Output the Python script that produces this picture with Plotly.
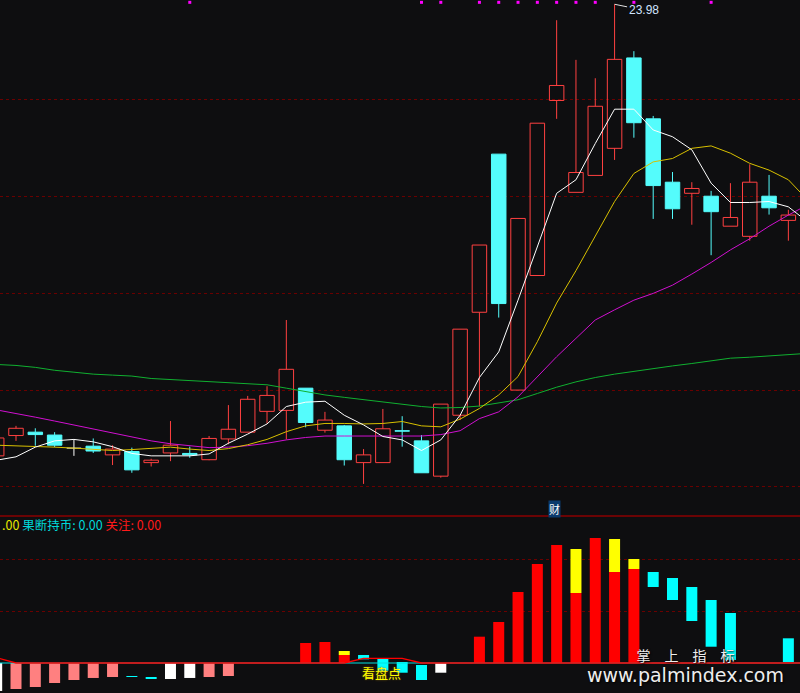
import plotly.graph_objects as go

# ---------------- data ----------------
idx = list(range(42))
opens = [14.64, 15.06, 15.13, 15.07, 14.80, 14.84, 14.66, 14.73, 14.50, 14.70,
         14.69, 14.56, 14.99, 15.13, 15.56, 15.58, 16.04, 15.17, 15.26, 14.50,
         14.50, 15.16, 14.95, 14.22, 15.48, 17.61, 20.88, 16.00, 18.37, 21.99,
         20.09, 20.44, 21.00, 22.87, 21.61, 20.30, 20.07, 20.01, 19.39, 19.18,
         20.01, 19.51]
highs = [15.07, 15.26, 15.21, 15.13, 14.98, 15.00, 14.86, 14.81, 14.58, 15.36,
         14.83, 15.05, 15.69, 15.88, 16.08, 17.45, 16.04, 15.55, 15.28, 14.78,
         15.61, 15.46, 15.07, 15.71, 17.26, 19.00, 20.88, 19.55, 21.52, 23.65,
         22.83, 22.45, 23.98, 23.01, 21.67, 20.51, 20.30, 20.12, 20.28, 20.67,
         20.45, 19.73]
lows = [14.55, 14.95, 14.85, 14.82, 14.64, 14.70, 14.45, 14.29, 14.42, 14.53,
        14.60, 14.55, 14.88, 15.13, 15.31, 14.98, 15.23, 15.12, 14.44, 14.06,
        14.50, 14.83, 14.29, 14.19, 15.38, 15.66, 17.50, 16.00, 18.37, 21.61,
        20.09, 20.44, 20.76, 21.22, 19.54, 19.54, 19.42, 18.79, 19.39, 19.09,
        19.63, 19.09]
closes = [15.01, 15.21, 15.08, 14.86, 14.80, 14.74, 14.78, 14.35, 14.55, 14.86,
          14.66, 15.00, 15.19, 15.81, 15.89, 16.43, 15.33, 15.38, 14.56, 14.66,
          15.20, 15.15, 14.29, 15.71, 17.26, 19.00, 17.79, 19.55, 21.52, 22.30,
          20.50, 21.87, 22.84, 21.53, 20.23, 19.75, 20.17, 19.69, 19.57, 20.30,
          19.77, 19.62]

line_idx = list(range(43))
ma_white = [14.55, 14.62, 14.82, 14.95, 14.98, 14.93, 14.83, 14.69, 14.64, 14.64,
            14.64, 14.68, 14.90, 15.09, 15.30, 15.66, 15.75, 15.77, 15.48, 15.28,
            15.04, 14.97, 14.75, 14.97, 15.48, 16.26, 16.79, 17.86, 18.98, 20.07,
            20.35, 21.10, 21.81, 21.81, 21.38, 21.24, 20.97, 20.28, 19.88, 19.88,
            19.90, 19.79, 19.48]
ma_yellow = [14.86, 14.85, 14.84, 14.82, 14.80, 14.78, 14.75, 14.77, 14.80, 14.82,
             14.78, 14.75, 14.79, 14.87, 14.98, 15.14, 15.26, 15.31, 15.31, 15.30,
             15.31, 15.35, 15.26, 15.24, 15.40, 15.62, 15.90, 16.28, 17.00, 17.80,
             18.47, 19.18, 19.90, 20.48, 20.72, 20.79, 21.00, 21.05, 20.90, 20.69,
             20.55, 20.35, 19.93]
ma_magenta = [15.59, 15.52, 15.44, 15.36, 15.28, 15.20, 15.11, 15.04, 14.95, 14.89,
              14.85, 14.81, 14.82, 14.85, 14.90, 14.97, 15.02, 15.05, 15.05, 15.05,
              15.06, 15.05, 15.05, 15.08, 15.16, 15.41, 15.55, 15.86, 16.28, 16.69,
              17.07, 17.45, 17.66, 17.86, 18.00, 18.17, 18.40, 18.64, 18.90, 19.13,
              19.39, 19.62, 19.83]
ma_green = [16.53, 16.51, 16.47, 16.41, 16.37, 16.33, 16.31, 16.29, 16.24, 16.22,
            16.20, 16.18, 16.16, 16.14, 16.11, 16.04, 15.97, 15.90, 15.85, 15.80,
            15.75, 15.71, 15.66, 15.63, 15.64, 15.67, 15.73, 15.80, 15.93, 16.06,
            16.17, 16.26, 16.33, 16.39, 16.45, 16.50, 16.55, 16.60, 16.66, 16.68,
            16.71, 16.73, 16.76]

signal_idx = [10, 22, 23, 25, 26, 27, 28, 29, 30, 31, 33, 37]
signal_level = 24.02
peak_idx = 32
peak_value = 23.98
report_idx = 29

N = None
red_bar = [0, 0, 0, 0, 0, 0, 0, 0, 0, 0, 0, 0, 0, 0, 0, 0, 3.85, 4.04, 1.54, 0,
           0, 0, 0, 0, 0, 5.06, 7.88, 13.65, 19.04, 22.69, 13.46, 24.04, 17.5, 18.08, 0, 0,
           0, 0, 0, 0, 0, 0]
yellow_top = [N, N, N, N, N, N, N, N, N, N, N, N, N, N, N, N, N, N, 2.31, N,
              N, N, N, N, N, N, N, N, N, N, 21.92, N, 23.85, 20.0, N, N,
              N, N, N, N, N, N]
pink_bar = [N, -5.0, -4.62, -3.85, -3.27, -2.88, -2.69, N, N, N, N, -2.69, -2.5, N, N, N, N, N, N, N,
            N, N, N, N, N, N, N, N, N, N, N, N, N, N, N, N, N, N, N, N, N, N]
white_bar = [-5.38, N, N, N, N, N, N, N, N, -3.08, -2.88, N, N, N, N, N, N, N, N, N,
             N, N, N, -1.87, N, N, N, N, N, N, N, N, N, N, N, N, N, N, N, N, N, N]
cyan_hi = [N, N, N, N, N, N, N, -2.5, -2.69, N, N, N, N, N, N, N, N, N, N, 1.54,
           0.77, 0.19, -0.38, N, N, N, N, N, N, N, N, N, N, N, 17.5, 16.35,
           14.62, 12.12, 9.62, N, N, 4.75]
cyan_lo = [N, N, N, N, N, N, N, -2.69, -3.02, N, N, N, N, N, N, N, N, N, N, 0.71,
           -1.48, -1.87, -3.27, N, N, N, N, N, N, N, N, N, N, N, 14.62, 12.12,
           8.08, 3.13, 0.58, N, N, 0.19]
guanzhu = [1.0, 0, 0, 0, 0, 0, 0, 0, 0, 0, 0, 0, 0, 0, 0, 0, 0, 0, 0, 0.9,
           0.9, 0.9, 0, 0, 0, 0, 0, 0, 0, 0, 0, 0, 0, 0, 0, 0, 0, 0, 0, 0, 0, 0, 0]
chibi = [0] * 43

# ---------------- styles ----------------
BG = "#0e0e10"
UP = "#ff4040"
DN = "#54fcfc"
GRID = "#6a0000"
BODY_W = 0.75
BAR_W = 0.57

fig = go.Figure()

# wicks
wick = {"up": ([], []), "dn": ([], []), "eq": ([], [])}
up_x, up_b, up_h = [], [], []
dn_x, dn_b, dn_h = [], [], []
doji_x, doji_y = [], []
for i, o, h, l, c in zip(idx, opens, highs, lows, closes):
    top, bot = max(o, c), min(o, c)
    k = "up" if c > o else ("dn" if c < o else "eq")
    xs, ys = wick[k]
    if h > top:
        xs += [i, i, None]; ys += [top, h, None]
    if l < bot:
        xs += [i, i, None]; ys += [bot, l, None]
    if k == "up":
        up_x.append(i); up_b.append(bot); up_h.append(top - bot)
    elif k == "dn":
        dn_x.append(i); dn_b.append(bot); dn_h.append(top - bot)
    else:
        doji_x += [i - BODY_W / 2, i + BODY_W / 2, None]; doji_y += [o, o, None]

wcol = {"up": UP, "dn": DN, "eq": "#ffffff"}
for k, (xs, ys) in wick.items():
    fig.add_trace(go.Scatter(x=xs, y=ys, mode="lines", line=dict(color=wcol[k], width=1),
                             xaxis="x", yaxis="y", hoverinfo="skip"))

fig.add_trace(go.Bar(x=dn_x, y=dn_h, base=dn_b, width=BODY_W,
                     marker=dict(color=DN, line=dict(color=DN, width=1)), xaxis="x", yaxis="y"))
fig.add_trace(go.Bar(x=up_x, y=up_h, base=up_b, width=BODY_W,
                     marker=dict(color="rgba(0,0,0,0)", line=dict(color=UP, width=1)), xaxis="x", yaxis="y"))
fig.add_trace(go.Scatter(x=doji_x, y=doji_y, mode="lines", line=dict(color="#ffffff", width=1),
                         xaxis="x", yaxis="y"))

# moving averages
for vals, col in [(ma_green, "#10b030"), (ma_magenta, "#d010d0"),
                  (ma_yellow, "#d8c000"), (ma_white, "#ffffff")]:
    fig.add_trace(go.Scatter(x=line_idx, y=vals, mode="lines", line=dict(color=col, width=1),
                             xaxis="x", yaxis="y"))

# signal dots
fig.add_trace(go.Scatter(x=signal_idx, y=[signal_level] * len(signal_idx), mode="markers",
                         marker=dict(symbol="square", size=3, color="#ff00ff"),
                         xaxis="x", yaxis="y"))

# ---------------- bottom panel ----------------
fig.add_trace(go.Bar(x=idx, y=red_bar, width=BAR_W, marker=dict(color="#ff0000", line=dict(width=0)),
                     xaxis="x2", yaxis="y2"))
ytop_len = [None if t is None else t - r for t, r in zip(yellow_top, red_bar)]
fig.add_trace(go.Bar(x=idx, y=ytop_len, base=red_bar, width=BAR_W,
                     marker=dict(color="#ffff00", line=dict(width=0)), xaxis="x2", yaxis="y2"))
fig.add_trace(go.Bar(x=idx, y=pink_bar, width=BAR_W, marker=dict(color="#ff8080", line=dict(width=0)),
                     xaxis="x2", yaxis="y2"))
fig.add_trace(go.Bar(x=idx, y=white_bar, width=BAR_W, marker=dict(color="#ffffff", line=dict(width=0)),
                     xaxis="x2", yaxis="y2"))
cy_len = [None if h is None else h - l for h, l in zip(cyan_hi, cyan_lo)]
fig.add_trace(go.Bar(x=idx, y=cy_len, base=cyan_lo, width=BAR_W,
                     marker=dict(color="#00ffff", line=dict(width=0)), xaxis="x2", yaxis="y2"))
fig.add_trace(go.Scatter(x=line_idx, y=chibi, mode="lines", line=dict(color="#00e0e0", width=1),
                         xaxis="x2", yaxis="y2"))
fig.add_trace(go.Scatter(x=line_idx, y=guanzhu, mode="lines", line=dict(color="#ff0000", width=1.3),
                         xaxis="x2", yaxis="y2"))

XR = [0.1714, 41.6028]
H = 693.0
split = 1 - 516 / H

fig.update_layout(
    width=800, height=693, margin=dict(l=0, r=0, t=0, b=0),
    paper_bgcolor=BG, plot_bgcolor=BG, showlegend=False, barmode="overlay",
    xaxis=dict(domain=[0, 1], range=XR, showgrid=False, zeroline=False, showticklabels=False,
               anchor="y", fixedrange=True),
    yaxis=dict(domain=[split, 1], range=[13.396, 24.068], tickvals=[14, 16, 18, 20, 22],
               showticklabels=False, showgrid=True, gridcolor=GRID, griddash="dot", gridwidth=1,
               zeroline=False, anchor="x"),
    xaxis2=dict(domain=[0, 1], range=XR, showgrid=False, zeroline=False, showticklabels=False,
                anchor="y2"),
    yaxis2=dict(domain=[0, split], range=[-5.77, 28.27], tickvals=[10, 20],
                showticklabels=False, showgrid=True, gridcolor=GRID, griddash="dot", gridwidth=1,
                zeroline=False, anchor="x2"),
)

fig.add_shape(type="line", xref="paper", yref="paper", x0=0, x1=1, y0=split, y1=split,
              line=dict(color="#8b0000", width=1.5))

# peak label
fig.add_annotation(x=peak_idx, y=peak_value, xref="x", yref="y", text="23.98",
                   showarrow=True, arrowhead=0, arrowwidth=1, arrowcolor="#e0e0e0",
                   ax=29, ay=6, font=dict(color="#d0e4ff", size=12, family="Liberation Sans"))

# report marker
fig.add_annotation(x=report_idx, y=1 - 508.5 / H, xref="x", yref="paper", text="财",
                   xanchor="center", yanchor="middle",
                   showarrow=False, bgcolor="#0b3a6c", borderpad=0, xshift=-2,
                   font=dict(color="#ffffff", size=11, family="Noto Sans CJK SC"))

# indicator caption
fig.add_annotation(x=0, y=1 - 524.5 / H, xref="paper", yref="paper", xanchor="left", yanchor="middle",
                   showarrow=False,
                   text="<span style='color:#e8e800'>.00</span> "
                        "<span style='color:#00d8d8'>果断持币: 0.00</span> "
                        "<span style='color:#ff1a1a'>关注: 0.00</span>",
                   font=dict(size=12.5, family="Noto Sans CJK SC"))

fig.add_annotation(x=381 / 800, y=1 - 672.5 / H, xref="paper", yref="paper", showarrow=False,
                   xanchor="center", yanchor="middle",
                   text="看盘点", font=dict(color="#ffff00", size=13, family="Noto Sans CJK SC",
                                         shadow="0px 0px 2px #806000"))

# watermark (two lines in one text block)
fig.add_annotation(x=685 / 800, y=1 - 665.5 / H, xref="paper", yref="paper", showarrow=False,
                   xanchor="center", yanchor="middle",
                   text="<span style='font-size:14px'>掌　上　指　标</span><br>"
                        "<span style='font-size:19px;font-family:DejaVu Sans'>www.palmindex.com</span>",
                   font=dict(color="#eeeeee", size=16, family="Noto Sans CJK SC",
                             shadow="1px 1px 2px #000000"))

fig.write_html("out.html", config={"displayModeBar": False},
               post_script="document.body.style.margin='0';document.body.style.overflow='hidden';")
